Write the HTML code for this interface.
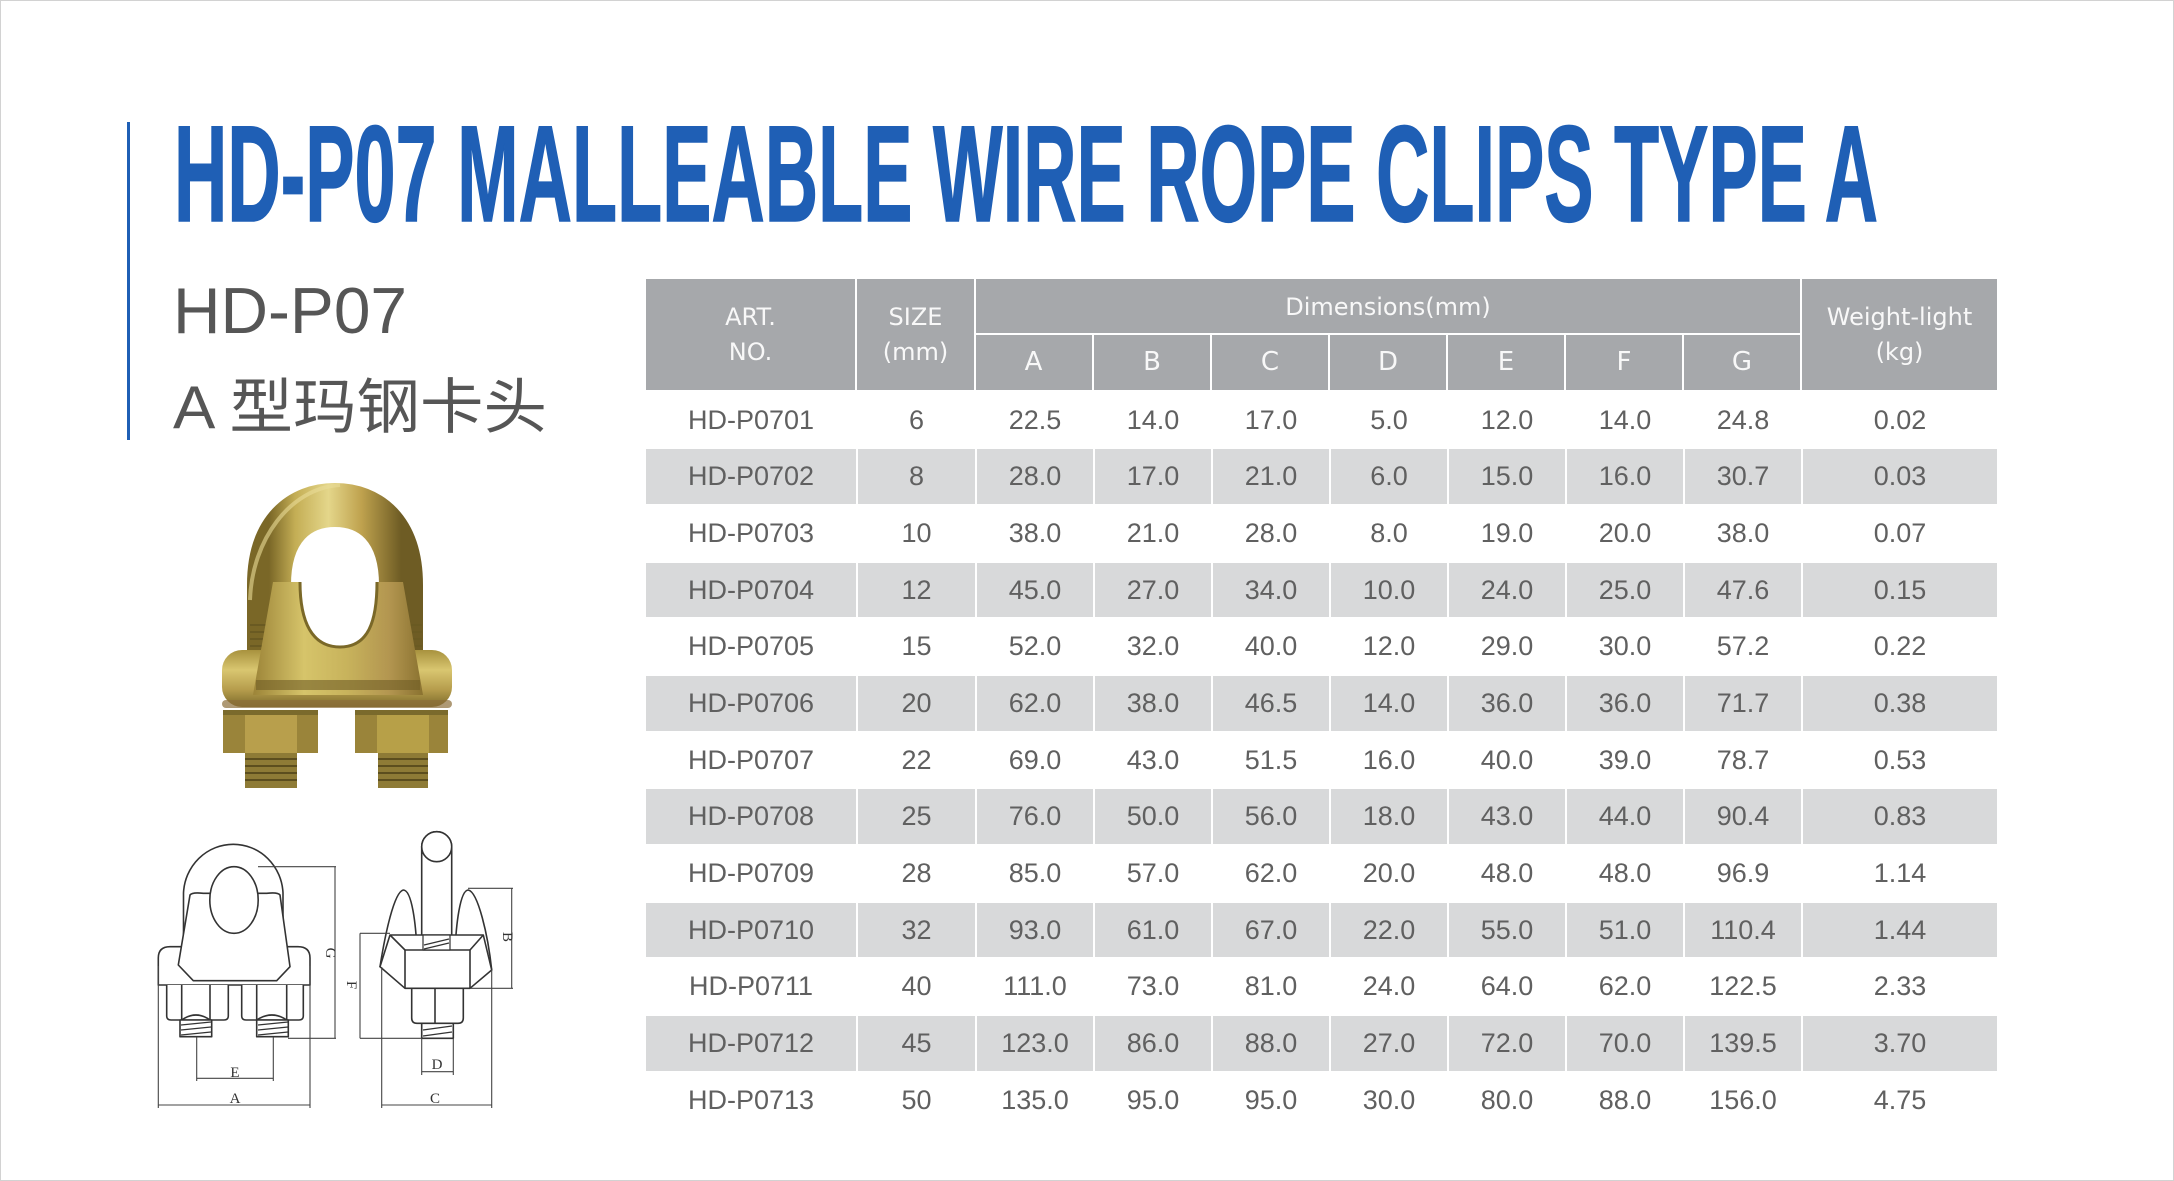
<!DOCTYPE html>
<html>
<head>
<meta charset="utf-8">
<style>
  html,body{margin:0;padding:0;background:#fff;}
  #page{position:relative;width:2174px;height:1181px;overflow:hidden;background:#fff;}
  .frame{position:absolute;left:0;top:0;width:2172px;height:1179px;border:1px solid #d2d2d2;}
  .hdr{position:absolute;left:646px;top:279px;width:1351px;height:110.5px;background:#a6a8ab;}
  .vl{position:absolute;background:#fff;width:2px;}
  .hl{position:absolute;background:#fff;height:2px;}
  .ht{position:absolute;color:#f8f8f8;font-family:"DejaVu Sans","Liberation Sans",sans-serif;font-size:24px;text-align:center;line-height:35px;}
  .row{position:absolute;left:646px;width:1351px;height:54.7px;display:flex;}
  .row div{box-sizing:border-box;height:54.7px;line-height:55px;text-align:center;
    font-family:"Liberation Sans",sans-serif;font-size:27px;color:#606060;border-left:2px solid #fff;}
  .row div:first-child{border-left:none;}
  .row.g div{background:#d8d9da;}
  .c0{width:210px}.c1{width:119px}.cd{width:118px}.cw{width:196px}
</style>
</head>
<body>
<div id="page">
  <div class="frame"></div>

  <svg width="2174" height="1181" style="position:absolute;left:0;top:0" xmlns="http://www.w3.org/2000/svg">
    <defs>
      <linearGradient id="goldH" x1="0" y1="0" x2="1" y2="0">
        <stop offset="0" stop-color="#7a6727"/>
        <stop offset="0.2" stop-color="#c4ae55"/>
        <stop offset="0.45" stop-color="#e4d68a"/>
        <stop offset="0.7" stop-color="#bfa24e"/>
        <stop offset="1" stop-color="#6e5c24"/>
      </linearGradient>
      <linearGradient id="goldV" x1="0" y1="0" x2="0" y2="1">
        <stop offset="0" stop-color="#a8923e"/>
        <stop offset="0.35" stop-color="#d9c670"/>
        <stop offset="0.7" stop-color="#b59c4c"/>
        <stop offset="1" stop-color="#7c6a2a"/>
      </linearGradient>
      <linearGradient id="saddle" x1="0" y1="0" x2="1" y2="0">
        <stop offset="0" stop-color="#9c8438"/>
        <stop offset="0.3" stop-color="#d6c46a"/>
        <stop offset="0.55" stop-color="#c8b35c"/>
        <stop offset="0.8" stop-color="#b39650"/>
        <stop offset="1" stop-color="#8a7230"/>
      </linearGradient>
    </defs>

    <!-- blue bar -->
    <rect x="127" y="122" width="3" height="318" fill="#1f5fb5"/>

    <!-- title -->
    <text x="174" y="221" font-family="'Liberation Sans', sans-serif" font-weight="bold" font-size="137" fill="#1f5fb5" stroke="#1f5fb5" stroke-width="1.5" textLength="1704" lengthAdjust="spacingAndGlyphs">HD-P07 MALLEABLE WIRE ROPE CLIPS TYPE A</text>

    <!-- subtitle -->
    <text x="173" y="333" font-family="'Liberation Sans', sans-serif" font-size="65" fill="#565656" textLength="234" lengthAdjust="spacingAndGlyphs">HD-P07</text>
    <text x="173" y="428" font-family="'Liberation Sans','Noto Sans CJK SC',sans-serif" font-size="60" fill="#565656" textLength="374" lengthAdjust="spacingAndGlyphs">A 型玛钢卡头</text>

    <!-- ===== product photo ===== -->
    <g>
      <path d="M269 668 V585 C269 528 300 505 335 505 C370 505 401 528 401 585 V668" fill="none" stroke="url(#goldH)" stroke-width="44"/>
      <path d="M250 600 C252 540 290 488 340 485" fill="none" stroke="#eadc98" stroke-width="4" opacity="0.6"/>
      <g stroke="#6a5a22" stroke-width="2">
        <line x1="250" y1="625" x2="290" y2="625"/><line x1="250" y1="632" x2="290" y2="632"/><line x1="250" y1="639" x2="290" y2="639"/><line x1="250" y1="646" x2="290" y2="646"/>
        <line x1="380" y1="625" x2="422" y2="625"/><line x1="380" y1="632" x2="422" y2="632"/><line x1="380" y1="639" x2="422" y2="639"/><line x1="380" y1="646" x2="422" y2="646"/>
      </g>
      <rect x="222" y="650" width="230" height="57" rx="20" fill="url(#goldV)"/>
      <rect x="222" y="700" width="230" height="8" rx="4" fill="#8c6e3a" opacity="0.7"/>
      <path d="M273 582 L300 582 C300 622 312 647 340 647 C368 647 377 622 377 582 L403 582 L423 695 L253 695 Z" fill="url(#saddle)"/>
      <path d="M300 582 C300 622 312 647 340 647 C368 647 377 622 377 582" fill="none" stroke="#7a6828" stroke-width="3"/>
      <rect x="256" y="680" width="164" height="10" fill="#6f5d26" opacity="0.6"/>
      <rect x="223" y="710" width="95" height="43" fill="#9a843a"/>
      <rect x="245" y="710" width="52" height="43" fill="#b89f4c"/>
      <rect x="223" y="710" width="95" height="5" fill="#7a6a2c"/>
      <rect x="355" y="710" width="93" height="43" fill="#9a843a"/>
      <rect x="377" y="710" width="52" height="43" fill="#b7a048"/>
      <rect x="355" y="710" width="93" height="5" fill="#7a6a2c"/>
      <rect x="245" y="753" width="52" height="35" fill="#8e7b36"/>
      <rect x="378" y="753" width="50" height="35" fill="#8e7b36"/>
      <g stroke="#5c4e1e" stroke-width="2">
        <line x1="245" y1="759" x2="297" y2="759"/><line x1="245" y1="766" x2="297" y2="766"/><line x1="245" y1="773" x2="297" y2="773"/><line x1="245" y1="780" x2="297" y2="780"/>
        <line x1="378" y1="759" x2="428" y2="759"/><line x1="378" y1="766" x2="428" y2="766"/><line x1="378" y1="773" x2="428" y2="773"/><line x1="378" y1="780" x2="428" y2="780"/>
      </g>
    </g>

    <!-- ===== line drawing: front view ===== -->
    <g fill="#fff" stroke="#333" stroke-width="1.6" stroke-linejoin="round">
      <path d="M170 946.7 H298 Q310 946.7 310 958 V985 H158.3 V958 Q158.3 946.7 170 946.7 Z"/>
      <path d="M166.7 985 V1016 Q166.7 1020 171 1020 H224 Q228.3 1020 228.3 1016 V985"/>
      <line x1="181.7" y1="985" x2="181.7" y2="1020"/><line x1="210" y1="985" x2="210" y2="1020"/>
      <path d="M181.7 1020 Q196 1010 210 1020" fill="none"/>
      <path d="M241.7 985 V1016 Q241.7 1020 246 1020 H299 Q303.3 1020 303.3 1016 V985"/>
      <line x1="256.7" y1="985" x2="256.7" y2="1020"/><line x1="286.7" y1="985" x2="286.7" y2="1020"/>
      <path d="M256.7 1020 Q272 1010 286.7 1020" fill="none"/>
      <rect x="180" y="1020" width="31.7" height="16.7"/>
      <rect x="256.7" y="1020" width="31.6" height="16.7"/>
      <g fill="none" stroke-width="1.2">
        <line x1="181" y1="1025" x2="211" y2="1022"/><line x1="181" y1="1030" x2="211" y2="1027"/><line x1="181" y1="1035" x2="211" y2="1032"/>
        <line x1="258" y1="1025" x2="288" y2="1022"/><line x1="258" y1="1030" x2="288" y2="1027"/><line x1="258" y1="1035" x2="288" y2="1032"/>
      </g>
      <path d="M183.5 935 V893 A49.8 51 0 0 1 283 893 V935"/>
      <path d="M190 895 Q192 892 203.3 893.3 L266.7 893.3 Q278 892 280 895 L290 966.7 L276.7 980.7 L193.3 980.7 L178.3 965 Z"/>
      <ellipse cx="234" cy="900" rx="24.2" ry="33.3"/>
    </g>
    <g stroke="#444" stroke-width="1.1" fill="none">
      <line x1="158.3" y1="966" x2="158.3" y2="1108"/>
      <line x1="310" y1="966" x2="310" y2="1108"/>
      <line x1="158.3" y1="1105" x2="310" y2="1105"/>
      <line x1="196.7" y1="1037" x2="196.7" y2="1081"/>
      <line x1="273.3" y1="1037" x2="273.3" y2="1081"/>
      <line x1="196.7" y1="1078.3" x2="273.3" y2="1078.3"/>
      <line x1="258" y1="866.7" x2="336" y2="866.7"/>
      <line x1="288" y1="1038.3" x2="336" y2="1038.3"/>
      <line x1="335" y1="866.7" x2="335" y2="1038.3"/>
    </g>
    <g font-family="'Liberation Serif',serif" font-size="15" fill="#333" text-anchor="middle">
      <text x="235" y="1103">A</text>
      <text x="235" y="1077">E</text>
      <text transform="translate(326,953) rotate(90)" text-anchor="middle">G</text>
    </g>

    <!-- ===== line drawing: side view ===== -->
    <g fill="#fff" stroke="#333" stroke-width="1.6" stroke-linejoin="round">
      <path d="M421.7 846.7 A15 15 0 0 1 451.7 846.7 V952 H421.7 Z"/>
      <circle cx="436.7" cy="846.7" r="15"/>
      <path d="M380 966.7 C385 935 394 892 403.3 890 C412 890 416 925 417 952 L405 952 Z"/>
      <path d="M455 952 C456 925 460 890 468.3 890 C478 892 488 935 491.7 970 L470 952 Z"/>
      <path d="M390 935 H483.3 L491.7 970 L470 988.3 H405 L380 966.7 Z"/>
      <line x1="405" y1="950" x2="470" y2="950"/>
      <line x1="390" y1="935" x2="405" y2="950"/>
      <line x1="483.3" y1="935" x2="470" y2="950"/>
      <line x1="405" y1="950" x2="405" y2="988.3"/>
      <line x1="470" y1="950" x2="470" y2="988.3"/>
      <rect x="423" y="935" width="27" height="15" stroke-width="1.2"/>
      <line x1="424" y1="945" x2="449" y2="939" stroke-width="1.2"/>
      <line x1="424" y1="949" x2="449" y2="943" stroke-width="1.2"/>
      <path d="M411.7 988.3 V1018 Q411.7 1023.3 417 1023.3 H458 Q463.3 1023.3 463.3 1018 V988.3 Z"/>
      <line x1="435" y1="988.3" x2="435" y2="1023.3"/>
      <rect x="421.7" y="1023.3" width="31.6" height="15"/>
      <line x1="423" y1="1030" x2="452" y2="1026" stroke-width="1.2"/>
      <line x1="423" y1="1036" x2="452" y2="1032" stroke-width="1.2"/>
    </g>
    <g stroke="#444" stroke-width="1.1" fill="none">
      <line x1="421.7" y1="1038" x2="421.7" y2="1075"/>
      <line x1="453.3" y1="1038" x2="453.3" y2="1075"/>
      <line x1="421.7" y1="1071.7" x2="453.3" y2="1071.7"/>
      <line x1="381.7" y1="967" x2="381.7" y2="1108"/>
      <line x1="491.7" y1="970" x2="491.7" y2="1108"/>
      <line x1="381.7" y1="1105" x2="491.7" y2="1105"/>
      <line x1="360" y1="933.3" x2="390" y2="933.3"/>
      <line x1="360" y1="1038.3" x2="421.7" y2="1038.3"/>
      <line x1="360" y1="933.3" x2="360" y2="1038.3"/>
      <line x1="468" y1="888.3" x2="513" y2="888.3"/>
      <line x1="470" y1="988.3" x2="513" y2="988.3"/>
      <line x1="511.7" y1="888.3" x2="511.7" y2="988.3"/>
    </g>
    <g font-family="'Liberation Serif',serif" font-size="15" fill="#333" text-anchor="middle">
      <text x="437" y="1069">D</text>
      <text x="435" y="1103">C</text>
      <text transform="translate(347,985) rotate(90)">F</text>
      <text transform="translate(503,937) rotate(90)">B</text>
    </g>
  </svg>

  <!-- ===== table header ===== -->
  <div class="hdr"></div>
  <div class="vl" style="left:855px;top:279px;height:110.5px"></div>
  <div class="vl" style="left:974px;top:279px;height:110.5px"></div>
  <div class="vl" style="left:1800px;top:279px;height:110.5px"></div>
  <div class="hl" style="left:975px;top:333px;width:825px"></div>
  <div class="vl" style="left:1092px;top:335px;height:54.5px"></div>
  <div class="vl" style="left:1210px;top:335px;height:54.5px"></div>
  <div class="vl" style="left:1328px;top:335px;height:54.5px"></div>
  <div class="vl" style="left:1446px;top:335px;height:54.5px"></div>
  <div class="vl" style="left:1564px;top:335px;height:54.5px"></div>
  <div class="vl" style="left:1682px;top:335px;height:54.5px"></div>

  <div class="ht" style="left:646px;top:300px;width:209px">ART.<br>NO.</div>
  <div class="ht" style="left:857px;top:300px;width:117px">SIZE<br>(mm)</div>
  <div class="ht" style="left:976px;top:281px;width:824px;line-height:52px">Dimensions(mm)</div>
  <div class="ht" style="left:1802px;top:300px;width:195px">Weight-light<br>(kg)</div>
  <div class="ht" style="left:975px;top:345px;width:117px;font-size:26px">A</div>
  <div class="ht" style="left:1094px;top:345px;width:116px;font-size:26px">B</div>
  <div class="ht" style="left:1212px;top:345px;width:116px;font-size:26px">C</div>
  <div class="ht" style="left:1330px;top:345px;width:116px;font-size:26px">D</div>
  <div class="ht" style="left:1448px;top:345px;width:116px;font-size:26px">E</div>
  <div class="ht" style="left:1566px;top:345px;width:116px;font-size:26px">F</div>
  <div class="ht" style="left:1684px;top:345px;width:116px;font-size:26px">G</div>

  <!-- ===== table rows ===== -->
  <div class="row" style="top:392.6px"><div class="c0">HD-P0701</div><div class="c1">6</div><div class="cd">22.5</div><div class="cd">14.0</div><div class="cd">17.0</div><div class="cd">5.0</div><div class="cd">12.0</div><div class="cd">14.0</div><div class="cd">24.8</div><div class="cw">0.02</div></div>
  <div class="row g" style="top:449.3px"><div class="c0">HD-P0702</div><div class="c1">8</div><div class="cd">28.0</div><div class="cd">17.0</div><div class="cd">21.0</div><div class="cd">6.0</div><div class="cd">15.0</div><div class="cd">16.0</div><div class="cd">30.7</div><div class="cw">0.03</div></div>
  <div class="row" style="top:506.0px"><div class="c0">HD-P0703</div><div class="c1">10</div><div class="cd">38.0</div><div class="cd">21.0</div><div class="cd">28.0</div><div class="cd">8.0</div><div class="cd">19.0</div><div class="cd">20.0</div><div class="cd">38.0</div><div class="cw">0.07</div></div>
  <div class="row g" style="top:562.6px"><div class="c0">HD-P0704</div><div class="c1">12</div><div class="cd">45.0</div><div class="cd">27.0</div><div class="cd">34.0</div><div class="cd">10.0</div><div class="cd">24.0</div><div class="cd">25.0</div><div class="cd">47.6</div><div class="cw">0.15</div></div>
  <div class="row" style="top:619.3px"><div class="c0">HD-P0705</div><div class="c1">15</div><div class="cd">52.0</div><div class="cd">32.0</div><div class="cd">40.0</div><div class="cd">12.0</div><div class="cd">29.0</div><div class="cd">30.0</div><div class="cd">57.2</div><div class="cw">0.22</div></div>
  <div class="row g" style="top:676.0px"><div class="c0">HD-P0706</div><div class="c1">20</div><div class="cd">62.0</div><div class="cd">38.0</div><div class="cd">46.5</div><div class="cd">14.0</div><div class="cd">36.0</div><div class="cd">36.0</div><div class="cd">71.7</div><div class="cw">0.38</div></div>
  <div class="row" style="top:732.7px"><div class="c0">HD-P0707</div><div class="c1">22</div><div class="cd">69.0</div><div class="cd">43.0</div><div class="cd">51.5</div><div class="cd">16.0</div><div class="cd">40.0</div><div class="cd">39.0</div><div class="cd">78.7</div><div class="cw">0.53</div></div>
  <div class="row g" style="top:789.4px"><div class="c0">HD-P0708</div><div class="c1">25</div><div class="cd">76.0</div><div class="cd">50.0</div><div class="cd">56.0</div><div class="cd">18.0</div><div class="cd">43.0</div><div class="cd">44.0</div><div class="cd">90.4</div><div class="cw">0.83</div></div>
  <div class="row" style="top:846.0px"><div class="c0">HD-P0709</div><div class="c1">28</div><div class="cd">85.0</div><div class="cd">57.0</div><div class="cd">62.0</div><div class="cd">20.0</div><div class="cd">48.0</div><div class="cd">48.0</div><div class="cd">96.9</div><div class="cw">1.14</div></div>
  <div class="row g" style="top:902.7px"><div class="c0">HD-P0710</div><div class="c1">32</div><div class="cd">93.0</div><div class="cd">61.0</div><div class="cd">67.0</div><div class="cd">22.0</div><div class="cd">55.0</div><div class="cd">51.0</div><div class="cd">110.4</div><div class="cw">1.44</div></div>
  <div class="row" style="top:959.4px"><div class="c0">HD-P0711</div><div class="c1">40</div><div class="cd">111.0</div><div class="cd">73.0</div><div class="cd">81.0</div><div class="cd">24.0</div><div class="cd">64.0</div><div class="cd">62.0</div><div class="cd">122.5</div><div class="cw">2.33</div></div>
  <div class="row g" style="top:1016.1px"><div class="c0">HD-P0712</div><div class="c1">45</div><div class="cd">123.0</div><div class="cd">86.0</div><div class="cd">88.0</div><div class="cd">27.0</div><div class="cd">72.0</div><div class="cd">70.0</div><div class="cd">139.5</div><div class="cw">3.70</div></div>
  <div class="row" style="top:1072.8px"><div class="c0">HD-P0713</div><div class="c1">50</div><div class="cd">135.0</div><div class="cd">95.0</div><div class="cd">95.0</div><div class="cd">30.0</div><div class="cd">80.0</div><div class="cd">88.0</div><div class="cd">156.0</div><div class="cw">4.75</div></div>
</div>
</body>
</html>
